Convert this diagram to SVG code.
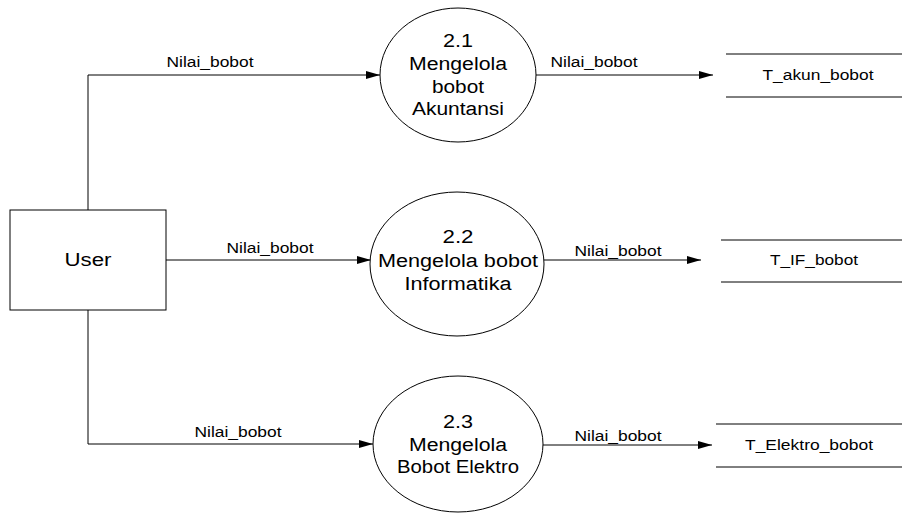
<svg xmlns="http://www.w3.org/2000/svg" width="902" height="516" viewBox="0 0 902 516">
<defs>
<style>
.ln{fill:none;stroke:#000;stroke-width:1}
.sh{fill:#fff;stroke:#000;stroke-width:1}
.t{font-family:"Liberation Sans",Arial,sans-serif;font-size:18px;fill:#000;text-anchor:middle}
.l{font-family:"Liberation Sans",Arial,sans-serif;font-size:14px;fill:#000;text-anchor:middle}
</style>
<marker id="ar" markerWidth="14" markerHeight="8" refX="14" refY="4" orient="auto" markerUnits="userSpaceOnUse">
<path d="M0,0 L14,4 L0,8 Z" fill="#000"/>
</marker>
</defs>
<rect width="902" height="516" fill="#fff"/>
<g id="connectors">
<polyline class="ln" points="88,210 88,75 380,75" marker-end="url(#ar)"/>
<text class="l" x="210" y="67" textLength="87" lengthAdjust="spacingAndGlyphs">Nilai_bobot</text>
<line class="ln" x1="166" y1="260" x2="371" y2="260" marker-end="url(#ar)"/>
<text class="l" x="270" y="253" textLength="87" lengthAdjust="spacingAndGlyphs">Nilai_bobot</text>
<polyline class="ln" points="88,310 88,444 373,444" marker-end="url(#ar)"/>
<text class="l" x="238" y="437" textLength="87" lengthAdjust="spacingAndGlyphs">Nilai_bobot</text>
<line class="ln" x1="536" y1="75" x2="713" y2="75" marker-end="url(#ar)"/>
<text class="l" x="594" y="67" textLength="87" lengthAdjust="spacingAndGlyphs">Nilai_bobot</text>
<line class="ln" x1="544" y1="260" x2="701" y2="260" marker-end="url(#ar)"/>
<text class="l" x="618" y="256" textLength="87" lengthAdjust="spacingAndGlyphs">Nilai_bobot</text>
<line class="ln" x1="543" y1="445" x2="712" y2="445" marker-end="url(#ar)"/>
<text class="l" x="618" y="441" textLength="87" lengthAdjust="spacingAndGlyphs">Nilai_bobot</text>
</g>
<g id="user">
<rect class="sh" x="10" y="210" width="156" height="100"/>
<text class="t" x="88" y="266" textLength="47" lengthAdjust="spacingAndGlyphs">User</text>
</g>
<g id="p21">
<ellipse class="sh" cx="458" cy="75" rx="78" ry="67"/>
<text class="t" x="458" y="47" textLength="30" lengthAdjust="spacingAndGlyphs">2.1</text>
<text class="t" x="458" y="70" textLength="98" lengthAdjust="spacingAndGlyphs">Mengelola</text>
<text class="t" x="458" y="93" textLength="52" lengthAdjust="spacingAndGlyphs">bobot</text>
<text class="t" x="458" y="115" textLength="92" lengthAdjust="spacingAndGlyphs">Akuntansi</text>
</g>
<g id="p22">
<ellipse class="sh" cx="457" cy="264" rx="87" ry="72"/>
<text class="t" x="458" y="243" textLength="31" lengthAdjust="spacingAndGlyphs">2.2</text>
<text class="t" x="458" y="267" textLength="160" lengthAdjust="spacingAndGlyphs">Mengelola bobot</text>
<text class="t" x="458" y="290" textLength="107" lengthAdjust="spacingAndGlyphs">Informatika</text>
</g>
<g id="p23">
<ellipse class="sh" cx="458" cy="444" rx="85" ry="68"/>
<text class="t" x="458" y="428" textLength="30" lengthAdjust="spacingAndGlyphs">2.3</text>
<text class="t" x="458" y="451" textLength="98" lengthAdjust="spacingAndGlyphs">Mengelola</text>
<text class="t" x="458" y="473" textLength="122" lengthAdjust="spacingAndGlyphs">Bobot Elektro</text>
</g>
<g id="s1">
<line class="ln" x1="726" y1="54" x2="902" y2="54"/>
<line class="ln" x1="726" y1="97" x2="902" y2="97"/>
<text class="l" x="818" y="80" textLength="111" lengthAdjust="spacingAndGlyphs">T_akun_bobot</text>
</g>
<g id="s2">
<line class="ln" x1="721" y1="240" x2="902" y2="240"/>
<line class="ln" x1="721" y1="282" x2="902" y2="282"/>
<text class="l" x="814" y="265" textLength="88" lengthAdjust="spacingAndGlyphs">T_IF_bobot</text>
</g>
<g id="s3">
<line class="ln" x1="716" y1="424" x2="902" y2="424"/>
<line class="ln" x1="716" y1="467" x2="902" y2="467"/>
<text class="l" x="809" y="450" textLength="128" lengthAdjust="spacingAndGlyphs">T_Elektro_bobot</text>
</g>
</svg>
